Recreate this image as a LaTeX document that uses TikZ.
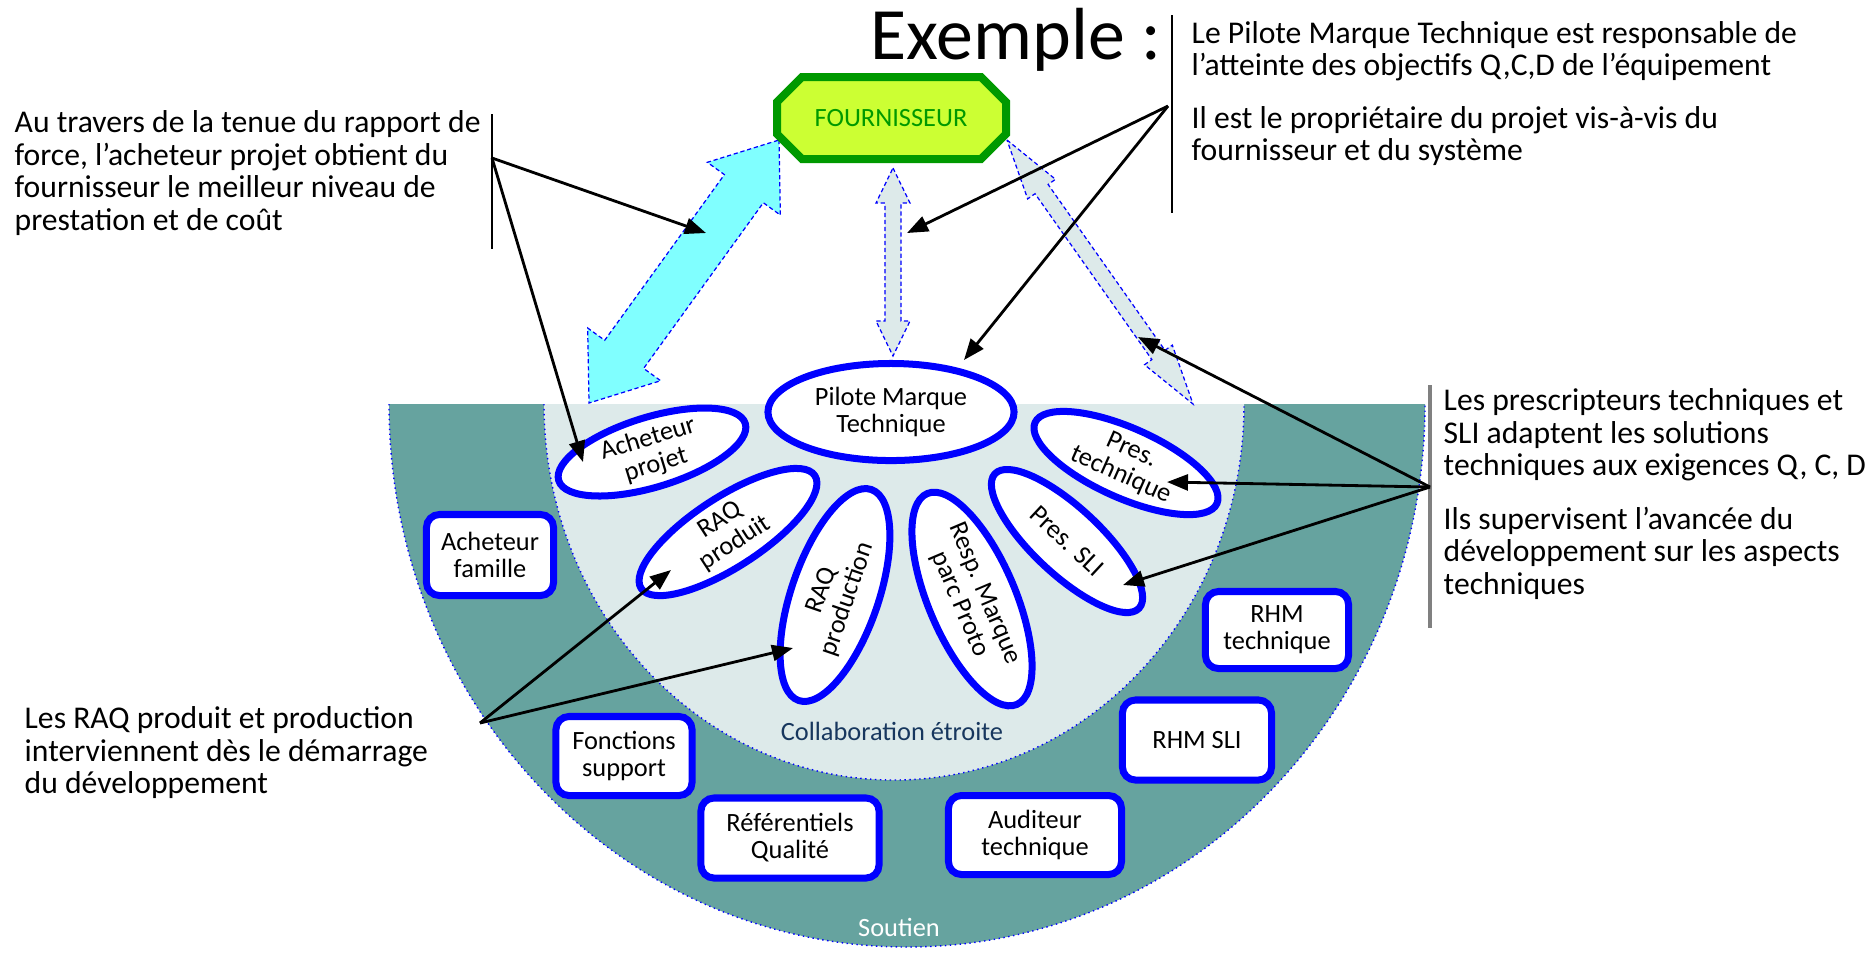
\documentclass[tikz,border=0pt]{standalone}
\usepackage{fontspec}
\setmainfont{Carlito}
\usetikzlibrary{shapes.geometric,arrows.meta,calc}

\definecolor{limefill}{HTML}{CCFF33}
\definecolor{fourgreen}{HTML}{009900}
\definecolor{cyanfill}{HTML}{80FFFF}
\definecolor{palefill}{HTML}{DDEAEA}
\definecolor{tealfill}{HTML}{66A39F}
\definecolor{navytext}{HTML}{17375E}

\tikzset{
  role/.style={ellipse, draw=blue, line width=0.07cm, fill=white, inner sep=-3pt,
    align=center, font=\fontsize{7.5}{7.7}\selectfont},
  support/.style={rectangle, rounded corners=0.13cm, draw=blue, line width=0.07cm,
    fill=white, inner sep=0pt, align=center, font=\fontsize{7.5}{7.7}\selectfont},
  remark/.style={anchor=west, align=left, inner sep=0pt, font=\fontsize{9}{9.25}\selectfont},
  note/.style={-{Triangle[length=0.21cm,width=0.16cm]}, line width=0.8pt},
  bar/.style={line width=0.5pt},
  linkarrow/.style={draw=blue, dash pattern=on 1.2pt off 0.8pt, line width=0.35pt},
  rim/.style={blue, densely dotted, line width=0.4pt}
}

% double block arrow: [style]{tip a}{tip b}{shaft half width}{head half width}{head length}
\newcommand{\blockarrow}[6][]{%
  \path[#1] (#2) -- ($(#2)!#6!(#3)!#5!90:(#3)$) -- ($(#2)!#6!(#3)!#4!90:(#3)$)
    -- ($(#3)!#6!(#2)!#4!-90:(#2)$) -- ($(#3)!#6!(#2)!#5!-90:(#2)$) -- (#3)
    -- ($(#3)!#6!(#2)!#5!90:(#2)$) -- ($(#3)!#6!(#2)!#4!90:(#2)$)
    -- ($(#2)!#6!(#3)!#4!-90:(#3)$) -- ($(#2)!#6!(#3)!#5!-90:(#3)$) -- cycle;%
}

\begin{document}
\begin{tikzpicture}[x=0.01cm, y=-0.01cm]

    \useasboundingbox (0,0) rectangle (1875,959);

    % Soutien band and collaboration zone
    \fill[tealfill] (389,404) arc[start angle=180, end angle=0, x radius=518, y radius=543] -- cycle;
    \draw[rim] (389,404) arc[start angle=180, end angle=0, x radius=518, y radius=543];
    \fill[palefill] (544,404) arc[start angle=180, end angle=0, x radius=350, y radius=376] -- cycle;
    \draw[rim] (544,404) arc[start angle=180, end angle=0, x radius=350, y radius=376];

    % Tips of the block arrows
    \coordinate (cyantop) at (779,140);
    \coordinate (cyanbot) at (589,403);
    \coordinate (midtop) at (893,168);
    \coordinate (midbot) at (893,356);
    \coordinate (righttop) at (1007,140);
    \coordinate (rightbot) at (1193,404);

    % Draw the block arrows
    \blockarrow[fill=cyanfill, linkarrow]{cyantop}{cyanbot}{0.24cm}{0.45cm}{0.6cm}
    \blockarrow[fill=palefill, linkarrow]{midtop}{midbot}{0.08cm}{0.17cm}{0.35cm}
    \blockarrow[fill=palefill, linkarrow]{righttop}{rightbot}{0.08cm}{0.17cm}{0.6cm}

    % The supplier
    \filldraw[fill=limefill, draw=fourgreen, line width=0.08cm]
      (802,77) -- (981,77) -- (1006,102) -- (1006,134) -- (981,159)
      -- (802,159) -- (777,134) -- (777,102) -- cycle;
    \node[text=fourgreen, font=\fontsize{7.5}{7.7}\selectfont] (four) at (891,118) {FOURNISSEUR};

    % Close collaboration
    \node[role, minimum width=2.46cm, minimum height=0.97cm] (pmt) at (891,412) {Pilote Marque\\Technique};
    \node[role, rotate=17, minimum width=1.95cm, minimum height=0.70cm] (achp) at (652,452) {Acheteur\\projet};
    \node[role, rotate=33, minimum width=2.07cm, minimum height=0.70cm] (raqpd) at (728,532) {RAQ\\produit};
    \node[role, rotate=71, minimum width=2.23cm, minimum height=0.87cm] (raqpn) at (835,595) {RAQ\\production};
    \node[role, rotate=-67, minimum width=2.29cm, minimum height=0.87cm] (resp) at (972,599) {Resp. Marque\\parc Proto};
    \node[role, rotate=-43, minimum width=1.97cm, minimum height=0.67cm] (press) at (1067,541) {Pres. SLI};
    \node[role, rotate=-24, minimum width=1.99cm, minimum height=0.70cm] (prest) at (1126,463) {Pres.\\technique};
    \node[text=navytext, font=\fontsize{7.5}{7.7}\selectfont] (collab) at (892,731) {Collaboration étroite};

    % Support
    \node[support, minimum width=1.27cm, minimum height=0.81cm] (achf) at (490,555) {Acheteur\\famille};
    \node[support, minimum width=1.36cm, minimum height=0.79cm] (fonc) at (624,756) {Fonctions\\support};
    \node[support, minimum width=1.78cm, minimum height=0.80cm] (refq) at (790,838) {Référentiels\\Qualité};
    \node[support, minimum width=1.73cm, minimum height=0.79cm] (audit) at (1035,835) {Auditeur\\technique};
    \node[support, minimum width=1.49cm, minimum height=0.80cm] (rhmsli) at (1197,740) {RHM SLI};
    \node[support, minimum width=1.43cm, minimum height=0.77cm] (rhmtech) at (1277,630) {RHM\\technique};
    \node[text=white, font=\fontsize{7.5}{7.7}\selectfont] (soutien) at (899,927) {Soutien};

    % Remarks
    \node[font=\fontsize{21}{24}\selectfont, inner sep=0pt] (exemple) at (1016,40) {Exemple :};
    \node[remark] (pmtresp) at (1191,51) {Le Pilote Marque Technique est responsable de\\l’atteinte des objectifs Q,C,D de l’équipement};
    \node[remark] (pmtown) at (1191,136) {Il est le propriétaire du projet vis-à-vis du\\fournisseur et du système};
    \node[remark] (buyer) at (14,173) {Au travers de la tenue du rapport de\\force, l’acheteur projet obtient du\\fournisseur le meilleur niveau de\\prestation et de coût};
    \node[remark] (raqnote) at (24,753) {Les RAQ produit et production\\interviennent dès le démarrage\\du développement};
    \node[remark] (presadapt) at (1443,435) {Les prescripteurs techniques et\\SLI adaptent les solutions\\techniques aux exigences Q, C, D};
    \node[remark] (pressup) at (1443,553) {Ils supervisent l’avancée du\\développement sur les aspects\\techniques};

    % Bars beside the remarks
    \draw[bar] (492,114) -- (492,249);
    \draw[bar] (1172,15) -- (1172,213);
    \draw[bar, gray, line width=1pt] (1430,385) -- (1430,628);

    % Forks and targets of the pointers
    \coordinate (leftfork) at (492,158);
    \coordinate (topfork) at (1168,106);
    \coordinate (botfork) at (480,723);
    \coordinate (rightfork) at (1430,487);
    \coordinate (tcyan) at (706,233);
    \coordinate (tachp) at (583,462);
    \coordinate (tmid) at (907,233);
    \coordinate (tpmt) at (964,360);
    \coordinate (tright) at (1138,337);
    \coordinate (tprest) at (1167,482);
    \coordinate (tpress) at (1123,585);
    \coordinate (traqpd) at (671,570);
    \coordinate (traqpn) at (793,648);

    % Draw the pointers
    \draw[note] (leftfork) -- (tcyan);
    \draw[note] (leftfork) -- (tachp);
    \draw[note] (topfork) -- (tmid);
    \draw[note] (topfork) -- (tpmt);
    \draw[note] (botfork) -- (traqpd);
    \draw[note] (botfork) -- (traqpn);
    \draw[note] (rightfork) -- (tright);
    \draw[note] (rightfork) -- (tprest);
    \draw[note] (rightfork) -- (tpress);

\end{tikzpicture}
\end{document}
